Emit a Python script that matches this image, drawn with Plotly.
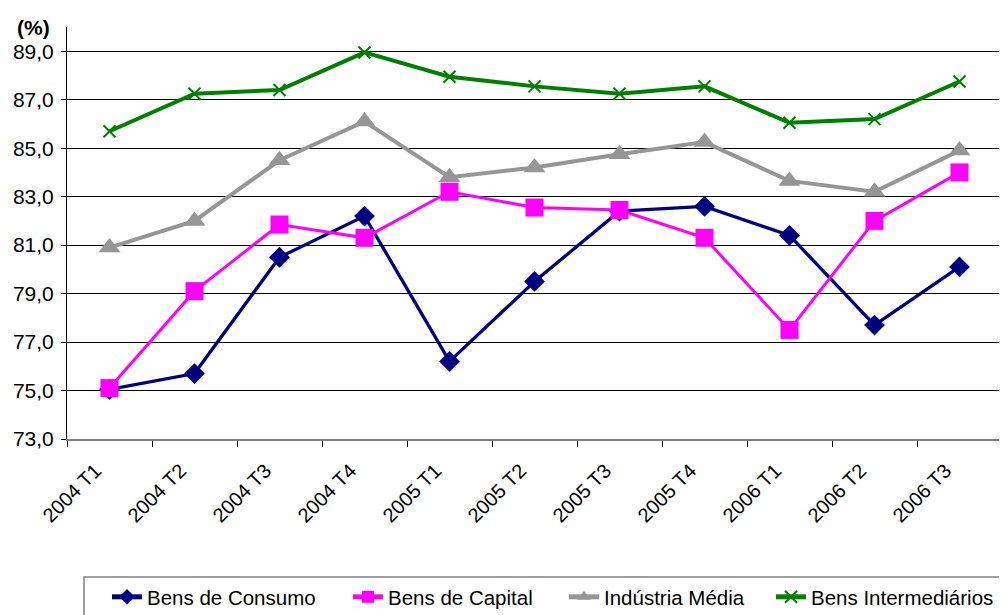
import plotly.graph_objects as go

categories = ["2004 T1", "2004 T2", "2004 T3", "2004 T4", "2005 T1", "2005 T2",
              "2005 T3", "2005 T4", "2006 T1", "2006 T2", "2006 T3"]
bens_consumo = [75.05, 75.7, 80.5, 82.2, 76.2, 79.5, 82.4, 82.6, 81.4, 77.7, 80.1]
bens_capital = [75.1, 79.1, 81.85, 81.3, 83.2, 82.55, 82.45, 81.3, 77.5, 82.0, 84.0]
industria_media = [80.9, 82.0, 84.5, 86.1, 83.8, 84.2, 84.75, 85.25, 83.65, 83.2, 84.9]
bens_intermediarios = [85.7, 87.25, 87.4, 88.95, 87.95, 87.55, 87.25, 87.55, 86.05, 86.2, 87.75]
y_ticks = [73, 75, 77, 79, 81, 83, 85, 87, 89]
y_tick_labels = ["73,0", "75,0", "77,0", "79,0", "81,0", "83,0", "85,0", "87,0", "89,0"]

FONT = "Liberation Sans, Arial, sans-serif"

OFF = 8  # page body margin
W, H = 1007 - OFF, 615 - OFF
ML, MR, MT, MB = 67 - OFF, 5, 27 - OFF, 176
PW, PH = W - ML - MR, H - MT - MB


def px_x(px):
    return (px - OFF - ML) / PW


def px_y(py):
    return (H - MB - (py - OFF)) / PH


fig = go.Figure()
fig.add_trace(go.Scatter(
    x=categories, y=bens_consumo, name="Bens de Consumo", mode="lines+markers",
    line=dict(color="#000080", width=3.3),
    marker=dict(symbol="diamond", size=16, color="#000080"), legend="legend"))
fig.add_trace(go.Scatter(
    x=categories, y=bens_capital, name="Bens de Capital", mode="lines+markers",
    line=dict(color="#FF00FF", width=3),
    marker=dict(symbol="square", size=18, color="#FF00FF"), legend="legend2"))
fig.add_trace(go.Scatter(
    x=categories, y=industria_media, name="Indústria Média", mode="lines+markers",
    line=dict(color="#969696", width=4),
    marker=dict(symbol="triangle-up", size=19, color="#969696"), legend="legend3"))
fig.add_trace(go.Scatter(
    x=categories, y=bens_intermediarios, name="Bens Intermediários", mode="lines+markers",
    line=dict(color="#008000", width=4),
    marker=dict(symbol="x-thin", size=12, color="#008000",
                line=dict(color="#008000", width=2)), legend="legend4"))

leg_common = dict(orientation="h", yanchor="middle", xanchor="left",
                  bgcolor="rgba(0,0,0,0)", borderwidth=0, itemsizing="constant",
                  font=dict(size=20.5, family=FONT, color="black"))
text_starts = [148, 389, 605, 812]
legends = {}
for i, tx in enumerate(text_starts):
    key = "legend" if i == 0 else f"legend{i+1}"
    legends[key] = dict(leg_common, x=px_x(tx - 41), y=px_y(597))

fig.update_layout(
    width=W, height=H,
    margin=dict(l=ML, r=MR, t=MT, b=MB, autoexpand=False),
    paper_bgcolor="white", plot_bgcolor="white",
    font=dict(family=FONT, size=20, color="black"),
    showlegend=True,
    xaxis=dict(type="category", showgrid=False, showline=True, linecolor="#808080",
               linewidth=2, ticks="outside", tickson="boundaries", ticklen=6,
               tickcolor="black", tickangle=-45, tickfont=dict(size=20),
               ticklabelshift=-14, ticklabelstandoff=10,
               range=[-0.5, 10.5], automargin=False),
    yaxis=dict(range=[73, 90], tickvals=y_ticks, ticktext=y_tick_labels,
               showgrid=True, gridcolor="black", gridwidth=1, showline=True,
               linecolor="black", linewidth=1, ticks="outside", ticklen=5,
               tickcolor="black", tickfont=dict(size=21), zeroline=False,
               ticklabelstandoff=3, automargin=False),
    annotations=[dict(text="<b>(%)</b>", xref="paper", yref="paper", x=px_x(52),
                      y=px_y(27), xanchor="right", yanchor="middle", showarrow=False,
                      font=dict(size=21, family=FONT))],
    shapes=[dict(type="rect", xref="paper", yref="paper",
                 x0=px_x(84), x1=px_x(1004), y0=px_y(577), y1=px_y(640),
                 line=dict(color="#808080", width=1.5), fillcolor="rgba(0,0,0,0)")],
    **legends,
)

fig.write_html("out.html")
